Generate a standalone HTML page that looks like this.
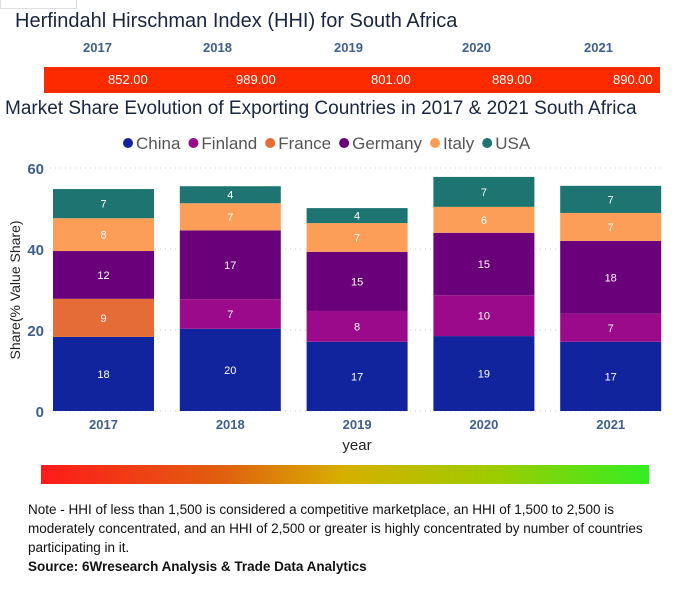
<!DOCTYPE html>
<html><head><meta charset="utf-8"><style>
body{margin:0;width:688px;height:600px;background:#fff;font-family:"Liberation Sans",sans-serif;overflow:hidden;position:relative}
.a{position:absolute}
</style></head><body>
<div class="a" style="left:0;top:0;width:75px;height:8px;border:1px solid #ddd;border-top:none"></div>
<div class="a" style="left:15px;top:10px;font-size:20px;color:#1a2540">Herfindahl Hirschman Index (HHI) for South Africa</div>
<div class="a" style="left:0;top:40px;width:688px;height:18px;font-size:13px;font-weight:bold;color:#3f5f8f">
<span class="a" style="left:83px">2017</span><span class="a" style="left:203px">2018</span><span class="a" style="left:334px">2019</span><span class="a" style="left:462px">2020</span><span class="a" style="left:584px">2021</span></div>
<div class="a" style="left:44px;top:67px;width:616px;height:26px;background:#fd2a00;color:#fff;font-size:13px">
<span class="a" style="left:64px;top:5px">852.00</span><span class="a" style="left:192px;top:5px">989.00</span><span class="a" style="left:327px;top:5px">801.00</span><span class="a" style="left:448px;top:5px">889.00</span><span class="a" style="left:569px;top:5px">890.00</span></div>
<div class="a" style="left:5px;top:98px;font-size:19px;color:#1a2540">Market Share Evolution of Exporting Countries in 2017 &amp; 2021 South Africa</div>
<svg class="a" style="left:0;top:0" width="688" height="600" id="chart"></svg>
<div class="a" style="left:41px;top:465px;width:608px;height:19px;background:linear-gradient(90deg,#ff1a1a,#e06010 30%,#d6b000 50%,#9ccc00 75%,#33ee22)"></div>
<div class="a" style="left:28px;top:500px;width:640px;font-size:13.5px;line-height:19px;color:#111">Note - HHI of less than 1,500 is considered a competitive marketplace, an HHI of 1,500 to 2,500 is moderately concentrated, and an HHI of 2,500 or greater is highly concentrated by number of countries participating in it.<br><b>Source: 6Wresearch Analysis &amp; Trade Data Analytics</b></div>
<script>
const years=["2017","2018","2019","2020","2021"];
const series=["China","Finland","France","Germany","Italy","USA"];
const colors=["#12239e","#9b0a8a","#e66c37","#6b007b","#fc9e58","#1d7471"];
const china=[18.3,20.3,17.1,18.5,17.1];
const finland=[0,7.3,7.6,10.1,6.9];
const france=[9.4,0,0,0,0];
const germany=[11.8,17,14.6,15.4,18];
const italy=[8.1,6.7,7.1,6.4,6.9];
const usa=[7.2,4.2,3.7,7.4,6.7];
const yTicks=[0,20,40,60];
const vals=[china,finland,france,germany,italy,usa];
const svg=document.getElementById('chart');const NS="http://www.w3.org/2000/svg";
const y=v=>411-v*4.05, x=i=>53+i*126.8, bw=101;
function mk(t,a,txt){const e=document.createElementNS(NS,t);for(const k in a)e.setAttribute(k,a[k]);if(txt!=null)e.textContent=txt;svg.appendChild(e);return e;}
let lx=123;
series.forEach((s,i)=>{const c=mk('circle',{cx:lx+5,cy:143,r:5,fill:colors[i]});


const t=mk('text',{x:lx+13,y:149,'font-size':17,fill:'#555','font-family':'Liberation Sans'},s);


lx+=13+t.getComputedTextLength()+8;});
yTicks.forEach(v=>{const l=mk('line',{x1:50,x2:665,y1:y(v),y2:y(v),stroke:'#ccc','stroke-dasharray':'1,4'});


const t=mk('text',{x:44,y:y(v)+6,'text-anchor':'end','font-size':15,'font-weight':'bold',fill:'#3f5f8f'},v);

});
years.forEach((yr,i)=>{let acc=0;vals.forEach((arr,s)=>{const v=arr[i];if(!v)return;
const r=mk('rect',{x:x(i),y:y(acc+v),width:bw,height:v*4.05,fill:colors[s]});


const t=mk('text',{x:x(i)+bw/2,y:y(acc+v/2)+4,'text-anchor':'middle','font-size':11,fill:'#fff'},Math.round(v));


acc+=v;});
const t=mk('text',{x:x(i)+bw/2,y:429,'text-anchor':'middle','font-size':13,'font-weight':'bold',fill:'#3f5f8f'},yr);

});
const xt=mk('text',{x:357,y:450,'text-anchor':'middle','font-size':15,fill:'#222'},'year');


const yt=mk('text',{x:0,y:0,'text-anchor':'middle','font-size':14,fill:'#222',transform:'translate(20,290) rotate(-90)'},'Share(% Value Share)');


</script>
</body></html>
